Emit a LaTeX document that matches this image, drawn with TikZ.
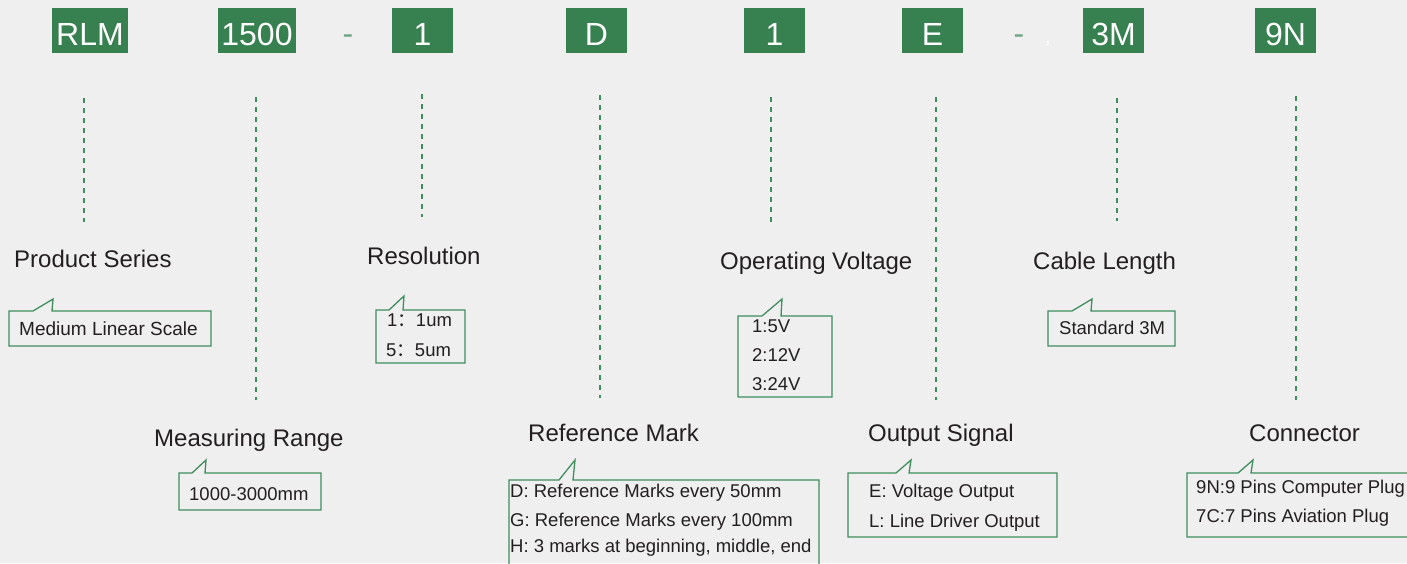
\documentclass[tikz,border=0pt]{standalone}
\usepackage{fontspec}
\setmainfont{Liberation Sans}
\newfontfamily\cjk{Noto Sans CJK SC}
\usepackage{xcolor}
\usetikzlibrary{positioning}

\definecolor{bggray}{HTML}{EFEFEF}
\definecolor{codegreen}{HTML}{37804F}
\definecolor{linegreen}{HTML}{3F8E5C}
\definecolor{inkgray}{HTML}{231F20}
\definecolor{sepgreen}{HTML}{72A585}

\tikzset{
    codebox/.style={fill=codegreen, text=white, inner sep=0pt, minimum height=45pt,
        text height=29pt, text depth=0pt, font=\fontsize{32}{32}\selectfont},
    title/.style={anchor=base west, text=inkgray, inner sep=0pt, font=\fontsize{24}{24}\selectfont},
    opt/.style={anchor=base west, text=inkgray, inner sep=0pt, font=\fontsize{18.5}{18.5}\selectfont},
    guide/.style={linegreen, line width=1.2pt, dash pattern=on 5pt off 5pt},
    bubble/.style={linegreen, line width=1.3pt},
}

% callout: x1 y1 x2 y2, tab left, tab tip x, tab right, tab tip y
\newcommand{\callout}[8]{%
    \draw[bubble] (#1,#2) -- (#5,#2) -- (#6,#8) -- (#7,#2) -- (#3,#2) -- (#3,#4) -- (#1,#4) -- cycle;}

\begin{document}
\begin{tikzpicture}[x=1pt, y=-1pt]
    \fill[bggray] (0,0) rectangle (1407,563);
    \useasboundingbox (0,0) rectangle (1407,563);
    \clip (0,0) rectangle (1407,563);

    % 型号代码
    \foreach \name/\x/\w/\code in {series/90/76/RLM, range/257/78/1500, res/422.5/61/1,
        refmark/596.5/61/D, volt/774.5/61/1, output/932.5/61/E, cable/1113.5/61/3M, conn/1285.5/61/9N}
        \node[codebox, minimum width=\w pt] (\name) at (\x,30.5) {\code};

    % 分隔符
    \node[text=sepgreen, font=\fontsize{32}{32}\selectfont] (sep1) at (348,40) {-};
    \node[text=sepgreen, font=\fontsize{32}{32}\selectfont] (sep2) at (1019,40) {-};
    \node[text=white, font=\fontsize{20}{20}\selectfont] (sep3) at (1048,44) {,};

    % 虚线
    \foreach \x/\ya/\yb in {84/98/222, 256/97/400, 422/94/217, 600/95/398,
        771/97/222, 936/97/400, 1117/98/221, 1296/96/400}
        \draw[guide] (\x,\ya) -- (\x,\yb);

    % 标题
    \node[title] (t-series) at (14,267) {Product Series};
    \node[title] (t-res) at (367,264) {Resolution};
    \node[title] (t-volt) at (720,269) {Operating Voltage};
    \node[title] (t-cable) at (1033,269) {Cable Length};
    \node[title] (t-range) at (154,446) {Measuring Range};
    \node[title] (t-refmark) at (528,441) {Reference Mark};
    \node[title] (t-output) at (868,441) {Output Signal};
    \node[title] (t-conn) at (1249,441) {Connector};

    % 说明框
    \callout{9}{311}{211}{346}{33}{53}{52}{299}
    \callout{376}{310}{465}{363}{389}{404}{403}{296}
    \callout{179}{473}{321}{510}{192}{206}{205}{460}
    \callout{738}{316}{832}{397}{762}{782}{781}{299}
    \callout{509}{480}{819}{600}{559}{575}{573}{460}
    \callout{848}{473}{1057}{537}{896}{911}{909}{460}
    \callout{1048}{311}{1175}{346}{1072}{1092}{1091}{299}
    \callout{1187}{473}{1450}{537}{1238}{1253}{1251}{460}

    % 选项文字
    \node[opt, font=\fontsize{19}{19}\selectfont] (o-series) at (19,335) {Medium Linear Scale};
    \node[opt] (o-res1) at (387,326) {1{\cjk ：}1um};
    \node[opt] (o-res5) at (386,356) {5{\cjk ：}5um};
    \node[opt] (o-range) at (189,500) {1000-3000mm};
    \node[opt] (o-volt1) at (752,332) {1:5V};
    \node[opt] (o-volt2) at (752,361) {2:12V};
    \node[opt] (o-volt3) at (752,390) {3:24V};
    \node[opt] (o-refD) at (510,497) {D: Reference Marks every 50mm};
    \node[opt] (o-refG) at (510,526) {G: Reference Marks every 100mm};
    \node[opt] (o-refH) at (510,552) {H: 3 marks at beginning, middle, end};
    \node[opt] (o-outE) at (869,497) {E: Voltage Output};
    \node[opt] (o-outL) at (869,527) {L: Line Driver Output};
    \node[opt] (o-cable) at (1059,334) {Standard 3M};
    \node[opt] (o-conn9) at (1196,493) {9N:9 Pins Computer Plug};
    \node[opt] (o-conn7) at (1196,522) {7C:7 Pins Aviation Plug};
\end{tikzpicture}
\end{document}
